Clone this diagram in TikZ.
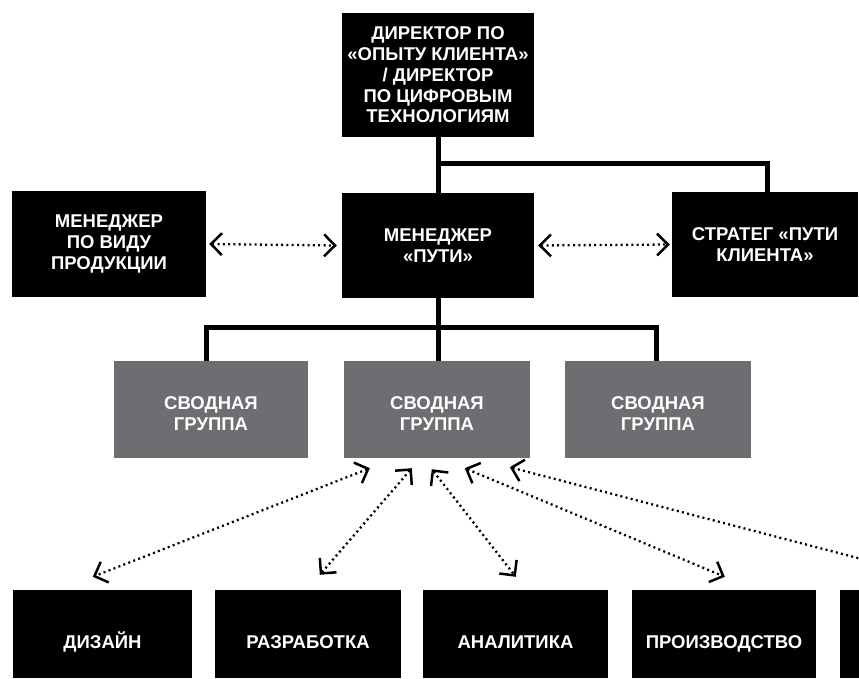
\documentclass[tikz,border=0pt]{standalone}
\usepackage{fontspec}
\setmainfont{Liberation Sans}
\usetikzlibrary{arrows.meta}
\definecolor{grp}{HTML}{6D6E71}
\begin{document}
\begin{tikzpicture}[x=1pt,y=-1pt,
  box/.style={fill=black, text=white, align=center, inner sep=0pt,
    font=\fontsize{18.5}{20.7}\selectfont\bfseries},
  grbox/.style={box, fill=grp, text height=42pt, text depth=0pt},
  botbox/.style={box, minimum height=88pt, text height=28pt, text depth=0pt},
  conn/.style={line width=5pt},
  tipb/.tip={Straight Barb[length=11pt,width=22pt,line width=2.5pt]},
  link/.style={line width=2.3pt, dash pattern=on 2pt off 3.3pt, tipb-tipb}]
\useasboundingbox (0,0) rectangle (859,679);
\clip (0,0) rectangle (859,679);
% top level
\node[box, minimum width=192pt, minimum height=124pt] (top) at (438,75)
  {ДИРЕКТОР ПО\\«ОПЫТУ КЛИЕНТА»\\/ ДИРЕКТОР\\ПО ЦИФРОВЫМ\\ТЕХНОЛОГИЯМ};
% second level
\node[box, minimum width=194pt, minimum height=106pt] (prod) at (109,244)
  {МЕНЕДЖЕР\\ПО ВИДУ\\ПРОДУКЦИИ};
\node[box, minimum width=192pt, minimum height=105pt] (mgr) at (438,245.5)
  {МЕНЕДЖЕР\\«ПУТИ»};
\node[box, minimum width=186pt, minimum height=105pt] (strat) at (765,244.5)
  {СТРАТЕГ «ПУТИ\\КЛИЕНТА»};
% groups
\node[grbox, minimum width=194pt, minimum height=97pt] (g1) at (211,409.5) {СВОДНАЯ\\ГРУППА};
\node[grbox, minimum width=186pt, minimum height=97pt] (g2) at (437,409.5) {СВОДНАЯ\\ГРУППА};
\node[grbox, minimum width=186pt, minimum height=97pt] (g3) at (658,409.5) {СВОДНАЯ\\ГРУППА};
% bottom
\node[botbox, minimum width=179pt] (b1) at (102.5,634) {ДИЗАЙН};
\node[botbox, minimum width=186pt] (b2) at (308,634) {РАЗРАБОТКА};
\node[botbox, minimum width=185pt] (b3) at (515.5,634) {АНАЛИТИКА};
\node[botbox, minimum width=184pt] (b4) at (724,634) {ПРОИЗВОДСТВО};
\node[botbox, minimum width=184pt] (b5) at (932,634) {};
% solid connectors
\draw[conn] (top.south) -- (mgr.north);
\draw[conn] (top.south) ++(0,26) coordinate (jt) -| ([xshift=2pt]strat.north);
\draw[conn] (mgr.south) -- (mgr.south |- g2.north);
\draw[conn] ([xshift=-5pt]g1.north) -- ++(0,-33) coordinate (jl) -| ([xshift=-2pt]g3.north);
% dotted links
\draw[link] ([xshift=3pt]prod.east) -- ([xshift=-5pt]mgr.west);
\draw[link] ([xshift=4pt]mgr.east) -- ([xshift=-2pt]strat.west);
\draw[link] ([shift={(26,10)}]g2.south west) -- ([shift={(80,-13)}]b1.north west);
\draw[link] ([shift={(68,10)}]g2.south west) -- ([shift={(105,-15)}]b2.north west);
\draw[link] ([shift={(88,11)}]g2.south west) -- ([shift={(93,-13)}]b3.north west);
\draw[link] ([shift={(121,10)}]g2.south west) -- ([shift={(93,-13)}]b4.north west);
\draw[link] ([shift={(166,9)}]g2.south west) -- ([shift={(90,-13)}]b5.north west);
\end{tikzpicture}
\end{document}
